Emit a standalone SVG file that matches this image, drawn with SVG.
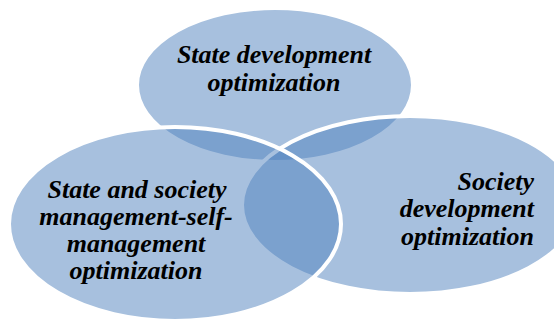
<svg xmlns="http://www.w3.org/2000/svg" width="554" height="321" viewBox="0 0 554 321">
<style>
.c{fill:rgb(79,129,189);fill-opacity:0.5;stroke:#fff;stroke-width:4}
text{font-family:'Liberation Serif','Times New Roman','DejaVu Serif',serif;font-weight:700;font-style:italic;font-size:26px;fill:#000}
</style>
<rect width="554" height="321" fill="#fff"/>
<g id="top">
<ellipse class="c" cx="275" cy="85" rx="138" ry="77"/>
</g>
<g id="right">
<ellipse class="c" cx="410" cy="205" rx="168" ry="89"/>
</g>
<g id="left">
<ellipse class="c" cx="175" cy="224" rx="166" ry="97"/>
</g>
<g id="connectors"></g>
<g id="labels">
<text text-anchor="middle" x="274" y="63">State development</text>
<text text-anchor="middle" x="274" y="91">optimization</text>
<text text-anchor="middle" x="137" y="198">State and society</text>
<text text-anchor="middle" x="136" y="225">management-self-</text>
<text text-anchor="middle" x="136" y="252">management</text>
<text text-anchor="middle" x="136" y="279">optimization</text>
<text text-anchor="end" x="534" y="190">Society</text>
<text text-anchor="end" x="534" y="217">development</text>
<text text-anchor="end" x="534" y="245">optimization</text>
</g>
</svg>
